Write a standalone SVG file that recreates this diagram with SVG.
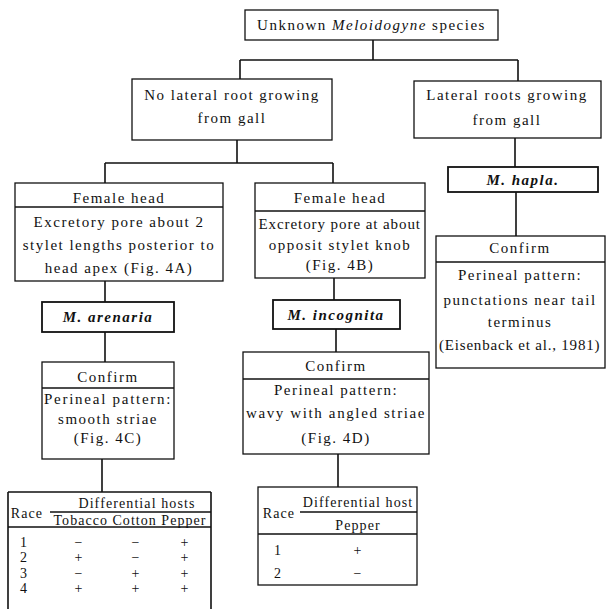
<svg xmlns="http://www.w3.org/2000/svg" width="607" height="609" viewBox="0 0 607 609">
<style>
.box{fill:#fff;stroke:#111;stroke-width:1.3}
.sbox{fill:#fff;stroke:#111;stroke-width:1.8}
.sep{stroke:#111;stroke-width:1.6;fill:none}
.ln{stroke:#111;stroke-width:1.6;fill:none}
.t{font-family:"Liberation Serif","Times New Roman",serif;font-size:15px;letter-spacing:1.5px;fill:#111;text-anchor:middle}
.sp{font-weight:bold;font-style:italic}
.tb{font-size:14px;letter-spacing:1.1px}
</style>
<rect width="607" height="609" fill="#fff"/>
<g id="connectors">
<path class="ln" d="M373 40V60M240 60H518M240 60V79M518 60V81"/>
<path class="ln" d="M237 140V163M105 163H333M105 163V183M333 163V183"/>
<path class="ln" d="M105 281V302M105 332V362M102 459V492"/>
<path class="ln" d="M334 278V300M336 329V352M338 454V487"/>
<path class="ln" d="M515 138V167M516 192V236"/>
</g>
<g id="unknown">
<rect class="box" x="245" y="10" width="253" height="30"/>
<text class="t" x="371.5" y="30" font-size="16">Unknown <tspan font-style="italic">Meloidogyne</tspan> species</text>
</g>
<g id="no-lateral">
<rect class="box" x="132" y="79" width="200" height="61"/>
<text class="t" x="232" y="100">No lateral root growing</text>
<text class="t" x="232" y="123">from gall</text>
</g>
<g id="lateral">
<rect class="box" x="414" y="81" width="187" height="57"/>
<text class="t" x="507" y="100">Lateral roots growing</text>
<text class="t" x="507" y="125">from gall</text>
</g>
<g id="female-head-1">
<rect class="box" x="15" y="183" width="208" height="98"/>
<line class="sep" x1="15" y1="207" x2="223" y2="207"/>
<text class="t" x="119" y="203">Female head</text>
<text class="t" x="119" y="227">Excretory pore about 2</text>
<text class="t" x="119" y="250">stylet lengths posterior to</text>
<text class="t" x="119" y="273">head apex (Fig. 4A)</text>
</g>
<g id="female-head-2">
<rect class="box" x="255" y="183" width="170" height="95"/>
<line class="sep" x1="255" y1="211" x2="425" y2="211"/>
<text class="t" x="340" y="203">Female head</text>
<text class="t" x="340" y="229" textLength="163" lengthAdjust="spacing">Excretory pore at about</text>
<text class="t" x="340" y="250">opposit stylet knob</text>
<text class="t" x="340" y="270">(Fig. 4B)</text>
</g>
<g id="m-arenaria">
<rect class="sbox" x="42" y="302" width="132" height="30"/>
<text class="t sp" x="108" y="322">M. arenaria</text>
</g>
<g id="m-incognita">
<rect class="sbox" x="273" y="300" width="127" height="29"/>
<text class="t sp" x="336" y="320">M. incognita</text>
</g>
<g id="m-hapla">
<rect class="sbox" x="448" y="167" width="150" height="25"/>
<text class="t sp" x="523" y="185">M. hapla.</text>
</g>
<g id="confirm-1">
<rect class="box" x="42" y="362" width="132" height="97"/>
<line class="sep" x1="42" y1="388" x2="174" y2="388"/>
<text class="t" x="108" y="382">Confirm</text>
<text class="t" x="108" y="404" textLength="128" lengthAdjust="spacing">Perineal pattern:</text>
<text class="t" x="108" y="424">smooth striae</text>
<text class="t" x="108" y="443">(Fig. 4C)</text>
</g>
<g id="confirm-2">
<rect class="box" x="243" y="352" width="186" height="102"/>
<line class="sep" x1="243" y1="379" x2="429" y2="379"/>
<text class="t" x="336" y="371">Confirm</text>
<text class="t" x="336" y="395">Perineal pattern:</text>
<text class="t" x="336" y="418" textLength="180" lengthAdjust="spacing">wavy with angled striae</text>
<text class="t" x="336" y="443">(Fig. 4D)</text>
</g>
<g id="confirm-3">
<rect class="box" x="436" y="236" width="169" height="132"/>
<line class="sep" x1="436" y1="262" x2="605" y2="262"/>
<text class="t" x="520" y="253">Confirm</text>
<text class="t" x="520" y="280">Perineal pattern:</text>
<text class="t" x="520" y="305">punctations near tail</text>
<text class="t" x="520" y="327">terminus</text>
<text class="t" x="520" y="350" textLength="162" lengthAdjust="spacing">(Eisenback et al., 1981)</text>
</g>
<g id="table-arenaria">
<path class="ln" d="M8 492H211M8 492V609M211 492V609M50 512H211M8 527H211" stroke-width="1.3"/>
<text class="t tb" x="27" y="518">Race</text>
<text class="t tb" x="137" y="508">Differential hosts</text>
<text class="t tb" x="130" y="525" textLength="153" lengthAdjust="spacing">Tobacco Cotton Pepper</text>
<text class="t tb" x="24" y="547">1</text><text class="t tb" x="79" y="547">−</text><text class="t tb" x="136" y="547">−</text><text class="t tb" x="185" y="547">+</text>
<text class="t tb" x="24" y="562">2</text><text class="t tb" x="79" y="562">+</text><text class="t tb" x="136" y="562">−</text><text class="t tb" x="185" y="562">+</text>
<text class="t tb" x="24" y="578">3</text><text class="t tb" x="79" y="578">−</text><text class="t tb" x="136" y="578">+</text><text class="t tb" x="185" y="578">+</text>
<text class="t tb" x="24" y="593">4</text><text class="t tb" x="79" y="593">+</text><text class="t tb" x="136" y="593">+</text><text class="t tb" x="185" y="593">+</text>
</g>
<g id="table-incognita">
<rect class="box" x="258" y="487" width="159" height="98"/>
<path class="ln" d="M300 512H417M258 534H417" stroke-width="1.3"/>
<text class="t tb" x="279" y="518">Race</text>
<text class="t tb" x="358" y="507">Differential host</text>
<text class="t tb" x="358" y="530">Pepper</text>
<text class="t tb" x="278" y="555">1</text><text class="t tb" x="358" y="555">+</text>
<text class="t tb" x="278" y="578">2</text><text class="t tb" x="358" y="578">−</text>
</g>
</svg>
